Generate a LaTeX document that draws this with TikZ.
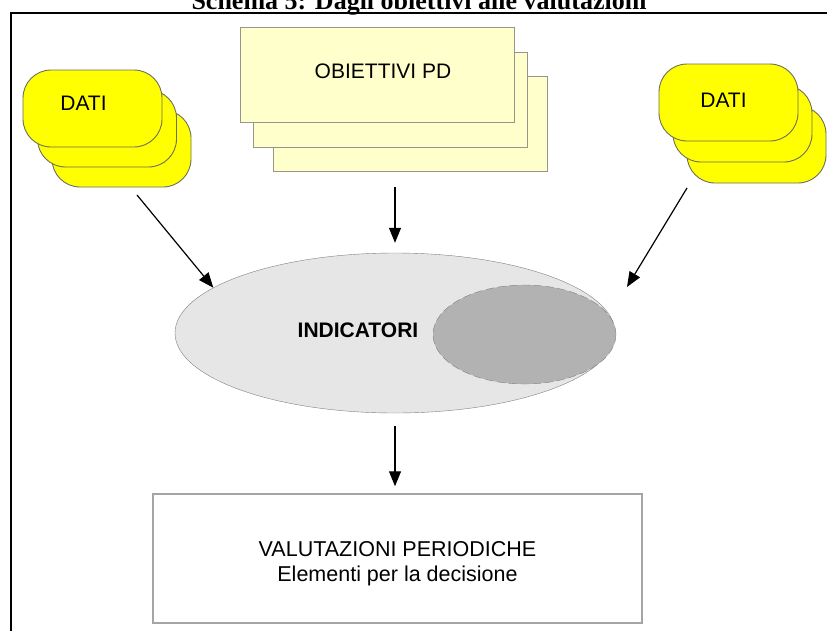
\documentclass[tikz,border=0pt]{standalone}
\usepackage{fontspec}
\setmainfont{Liberation Sans}
\newfontfamily\titlefont{Liberation Serif}
\usetikzlibrary{positioning,shapes.geometric,arrows.meta}

\definecolor{giallodati}{RGB}{255,255,0}
\definecolor{bordodati}{RGB}{110,110,90}
\definecolor{giallochiaro}{RGB}{255,255,204}
\definecolor{bordoobiettivi}{RGB}{150,150,140}
\definecolor{grigiochiaro}{RGB}{230,230,230}
\definecolor{grigioscuro}{RGB}{178,178,178}
\definecolor{bordoellisse}{RGB}{128,128,128}
\definecolor{bordoriquadro}{RGB}{165,165,165}

\begin{document}
\begin{tikzpicture}[x=1pt, y=-1pt,
			dati/.style={rectangle, draw=bordodati, line width=0.9pt, fill=giallodati, rounded corners=28pt, minimum width=139pt, minimum height=77pt},
			obiettivo/.style={rectangle, draw=bordoobiettivi, fill=giallochiaro, minimum width=274pt, minimum height=95pt},
			etichetta/.style={font=\fontsize{21}{25}\selectfont},
			insieme/.style={ellipse, draw=bordoellisse, fill=grigiochiaro, minimum width=440pt, minimum height=160pt, inner sep=0pt},
			sottoinsieme/.style={ellipse, draw=bordoellisse, dash pattern=on 8pt off 4pt, fill=grigioscuro, minimum width=183pt, minimum height=99pt, inner sep=0pt},
			riquadro/.style={rectangle, draw=bordoriquadro, line width=1.5pt, minimum width=489pt, minimum height=129pt},
			freccia/.style={-{Triangle[length=15pt,width=12pt]}, line width=1.2pt}
			]
			\useasboundingbox (0,0) rectangle (827,630);
			
			% Titolo (tagliato in alto) e cornice
			\node[anchor=base, font=\titlefont\bfseries\fontsize{26}{30}\selectfont] (titolo) at (419,9) {Schema 5: Dagli obiettivi alle valutazioni};
			\draw[line width=2pt] (11,640) -- (11,13) -- (840,13);
			
			% Pila DATI a sinistra (dal fondo verso il davanti)
			\node[dati] (datiL3) at (121.5,148.5) {};
			\node[dati] (datiL2) at (107,128.5) {};
			\node[dati, label={[etichetta, shift={(-9pt,5pt)}]center:DATI}] (datiL1) at (92.5,108.5) {};
			
			% Pila OBIETTIVI PD al centro
			\node[obiettivo] (obj3) at (410,124) {};
			\node[obiettivo] (obj2) at (390.5,99.5) {};
			\node[obiettivo, label={[etichetta, shift={(6pt,3pt)}]center:OBIETTIVI PD}] (obj1) at (377,74.5) {};
			
			% Pila DATI a destra
			\node[dati] (datiR3) at (756.5,144.5) {};
			\node[dati] (datiR2) at (742.5,123.5) {};
			\node[dati, label={[etichetta, shift={(-5pt,2pt)}]center:DATI}] (datiR1) at (728.5,102.5) {};
			
			% Insieme degli indicatori con il sottoinsieme tratteggiato
			\node[insieme] (ind) at (395,333) {};
			\node[sottoinsieme] (sub) at (524.5,334.5) {};
			\node[etichetta, font=\bfseries\fontsize{21}{25}\selectfont] (indlab) at (358,330) {INDICATORI};
			
			% Riquadro delle valutazioni
			\node[riquadro, label={[etichetta, align=center, font=\fontsize{21.5}{25}\selectfont, shift={(0,-5pt)}]center:VALUTAZIONI PERIODICHE\\Elementi per la decisione}] (valut) at (397.5,558.5) {};
			
			% Frecce
			\coordinate (dL) at (137,195);
			\coordinate (dR) at (687,188);
			\coordinate (iR) at (627,287);
			\draw[freccia] (dL) -- (ind.166);
			\draw[freccia] (dR) -- (iR);
			\draw[freccia, shorten <=15pt, shorten >=10pt] (obj3.south -| ind.north) -- (ind.north);
			\draw[freccia, shorten <=13pt, shorten >=7pt] (ind.south) -- (ind.south |- valut.north);
			
		\end{tikzpicture}
\end{document}
